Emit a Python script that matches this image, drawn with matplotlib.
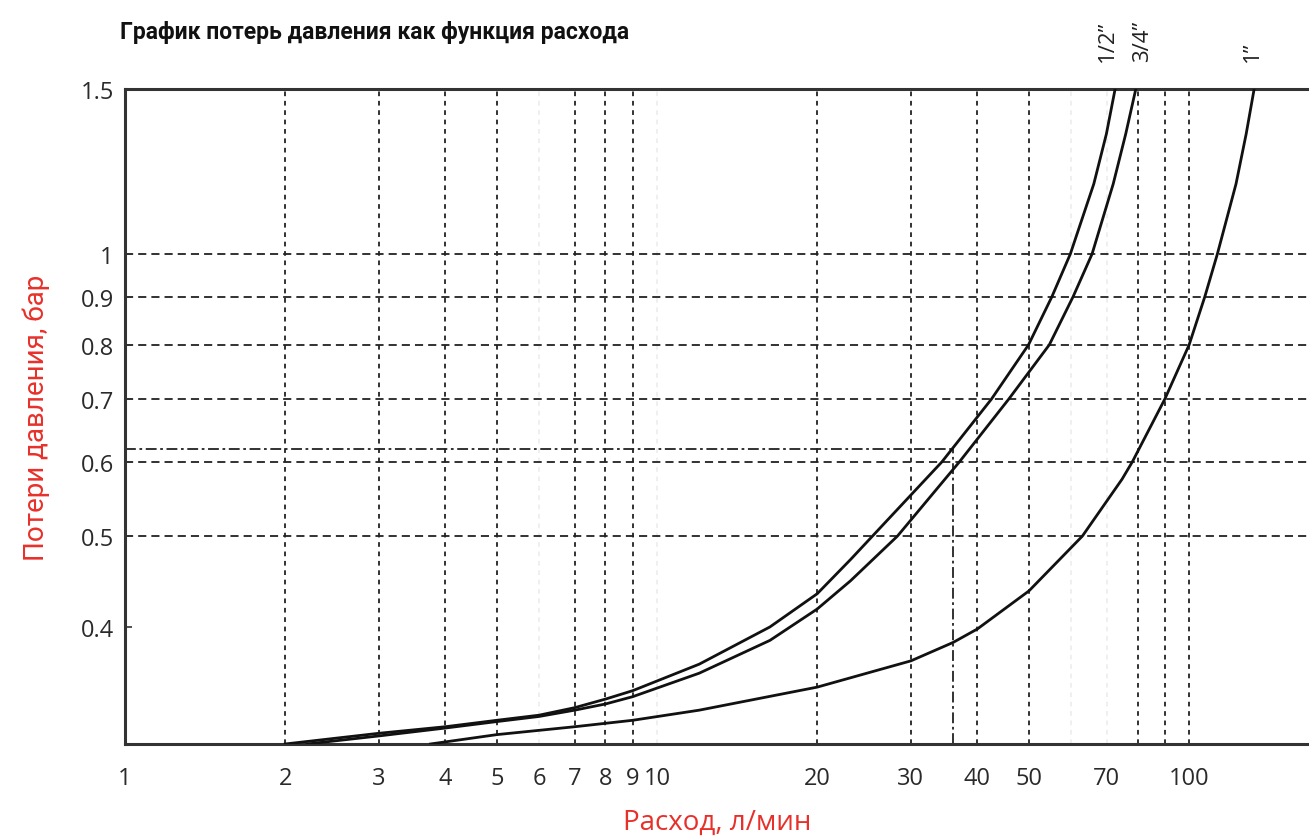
import numpy as np
import matplotlib
matplotlib.use("Agg")
import matplotlib.pyplot as plt
from matplotlib.ticker import FixedLocator, NullLocator, FixedFormatter

# Flow (l/min) vs pressure loss (bar)
flow_half = [2.0, 3.0, 4.0, 5.0, 6.0, 7.0, 8.0, 9.0, 12.0, 16.3, 20.0, 23.1, 25.4, 34.3,
             42.5, 49.9, 55.2, 59.8, 66.2, 69.9, 72.6]
loss_half = [0.30, 0.308, 0.313, 0.318, 0.322, 0.328, 0.335, 0.342, 0.365, 0.400, 0.434, 0.472, 0.50, 0.60,
             0.70, 0.80, 0.90, 1.00, 1.188, 1.343, 1.5]

flow_3q = [2.2, 3.0, 4.0, 5.0, 6.0, 7.0, 8.0, 9.0, 12.0, 16.3, 20.0, 23.1, 28.3, 37.0,
           45.8, 54.6, 60.5, 65.7, 72.0, 76.0, 79.4]
loss_3q = [0.30, 0.306, 0.312, 0.317, 0.321, 0.326, 0.331, 0.337, 0.357, 0.387, 0.418, 0.448, 0.50, 0.60,
           0.70, 0.80, 0.90, 1.00, 1.188, 1.343, 1.5]

flow_1 = [3.75, 5.0, 7.0, 9.0, 12.0, 20.0, 30.0, 36.0, 40.0, 50.0, 63.0, 74.8, 78.2, 90.0, 100.0,
          107.0, 113.0, 122.5, 128.0, 132.5]
loss_1 = [0.30, 0.307, 0.313, 0.318, 0.326, 0.345, 0.368, 0.385, 0.398, 0.437, 0.50, 0.575, 0.60, 0.70, 0.80,
          0.90, 1.00, 1.188, 1.343, 1.5]

curve_labels = ['1/2”', '3/4”', '1”']

# example reading
ref_flow = 36.0
ref_loss = 0.62

x_ticks = [1, 2, 3, 4, 5, 6, 7, 8, 9, 10, 20, 30, 40, 50, 70, 100]
y_ticks = [0.4, 0.5, 0.6, 0.7, 0.8, 0.9, 1.0, 1.5]
y_tick_labels = ['0.4', '0.5', '0.6', '0.7', '0.8', '0.9', '1', '1.5']
x_grid = [2, 3, 4, 5, 7, 8, 9, 20, 30, 40, 50, 80, 90, 100]
x_grid_faint = [6, 10, 60, 70]
y_grid = [0.5, 0.6, 0.7, 0.8, 0.9, 1.0]

W, H = 1309, 837
fig = plt.figure(figsize=(W / 100, H / 100), dpi=100)
ax = fig.add_axes([125 / W, 1 - 745 / H, 1 - 125 / W, (745 - 90) / H])

ax.set_xscale('log')
ax.set_yscale('log')
ax.set_xlim(1, 168)
ax.set_ylim(0.3, 1.5)

for x in x_grid:
    ax.axvline(x, color='#222222', lw=1.3, linestyle=(0, (2.6, 2.6)), zorder=1)
for x in x_grid_faint:
    ax.axvline(x, color='#eeeeee', lw=1.3, linestyle=(0, (2.6, 2.6)), zorder=0)
for y in y_grid:
    ax.axhline(y, color='#222222', lw=1.3, linestyle=(0, (4.5, 2.8)), zorder=1)

# dash-dot reading lines
dd = dict(color='#222222', lw=1.3, linestyle=(0, (6, 2, 1.5, 2)), zorder=1)
ax.plot([1, ref_flow], [ref_loss, ref_loss], **dd)
ax.plot([ref_flow, ref_flow], [0.3, ref_loss], **dd)

# small sideways nudges so the two close labels don't collide
label_dx = [-8, 7, -2]
for fl, ls, lab, dx in zip([flow_half, flow_3q, flow_1], [loss_half, loss_3q, loss_1], curve_labels, label_dx):
    ax.plot(fl, ls, color='#111111', lw=2.0, zorder=3, solid_joinstyle='round')
    ax.annotate(lab, xy=(fl[-1], 1.0), xycoords=('data', 'axes fraction'),
                xytext=(dx, 28), textcoords='offset pixels', rotation=90,
                ha='center', va='bottom', fontsize=16, family='Open Sans', color='#222222')

for side in ['left', 'top', 'bottom']:
    ax.spines[side].set_color('#333333')
    ax.spines[side].set_linewidth(2.2)
ax.spines['right'].set_visible(False)

ax.xaxis.set_major_locator(FixedLocator(x_ticks))
ax.xaxis.set_major_formatter(FixedFormatter([str(v) for v in x_ticks]))
ax.xaxis.set_minor_locator(NullLocator())
ax.yaxis.set_major_locator(FixedLocator(y_ticks))
ax.yaxis.set_major_formatter(FixedFormatter(y_tick_labels))
ax.yaxis.set_minor_locator(NullLocator())
ax.tick_params(axis='x', length=0, pad=16, labelsize=17, labelcolor='#2a2a2a')
ax.tick_params(axis='y', direction='in', length=5, width=1.2, color='#333333', pad=8,
               labelsize=17, labelcolor='#2a2a2a')
for lbl in ax.get_xticklabels() + ax.get_yticklabels():
    lbl.set_family('Open Sans')

ax.set_xlabel('Расход, л/мин', fontsize=20, color='#e8302a', family='Open Sans')
ax.xaxis.set_label_coords(0.5, -0.098)
ax.set_ylabel('Потери давления, бар', fontsize=20, color='#e8302a', family='Roboto')
ax.yaxis.set_label_coords(-0.063, 0.5)

fig.text(120 / W, 1 - 32 / H, 'График потерь давления как функция расхода', fontsize=16.5,
         fontweight='bold', family='Roboto', ha='left', va='center', color='#111111')

fig.savefig('out.png', dpi=100)
